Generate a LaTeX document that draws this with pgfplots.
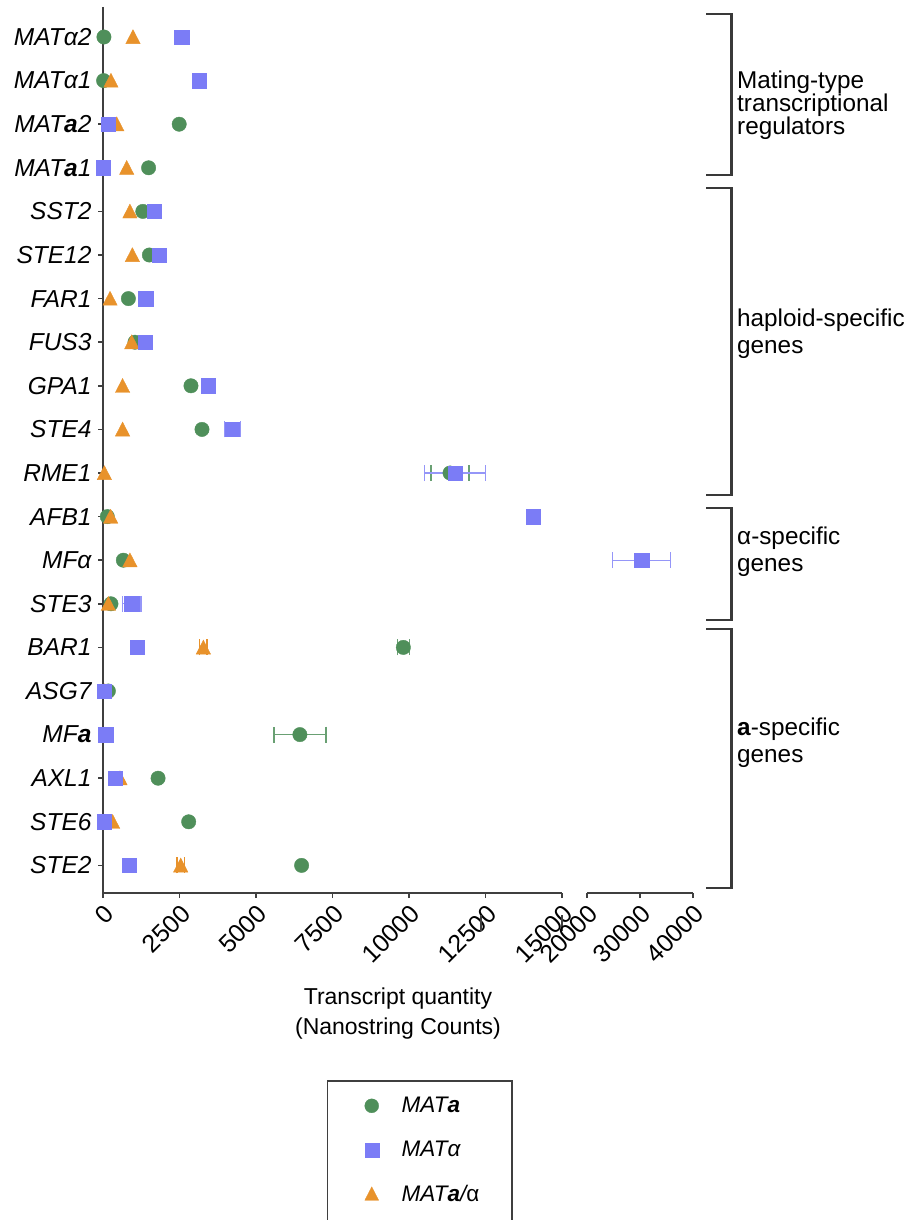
\documentclass[border=0pt]{standalone}
\usepackage{pgfplots}
\pgfplotsset{compat=1.18}
\usepackage{pgfplotstable}
\usepackage{fontspec}
\setmainfont{Liberation Sans}
\definecolor{cA}{HTML}{4F8F5A}
\definecolor{cB}{HTML}{7B7CF6}
\definecolor{cC}{HTML}{E8922B}
\definecolor{axc}{HTML}{3F3F3F}

% row index (0 = top), mean transcript count
\pgfplotstableread{
y x
0 30
1 20
2 2490
3 1490
4 1300
5 1515
6 830
7 1045
8 2875
9 3235
10 11340
11 140
12 665
13 260
14 9815
15 175
16 6435
17 1800
18 2800
19 6490
}\tabA
\pgfplotstableread{
y x
0 2570
1 3150
2 175
3 10
4 1670
5 1840
6 1395
7 1370
8 3440
9 4225
10 11500
11 14065
13 940
14 1120
15 35
16 85
17 390
18 45
19 850
}\tabB
\pgfplotstableread{
y x
12 30300
}\tabBright
\pgfplotstableread{
y x
0 980
1 260
2 450
3 775
4 880
5 960
6 230
7 940
8 640
9 640
10 45
11 250
12 880
13 175
14 3280
15 60
16 80
17 555
18 315
19 2540
}\tabC
% error bars (only where they show): row, mean, error
\pgfplotstableread{
y x e
10 11340 620
14 9815 200
16 6435 850
}\errA
\pgfplotstableread{
y x e
9 4225 260
10 11500 1000
13 940 300
}\errB
\pgfplotstableread{
y x e
12 30300 5500
}\errBright
\pgfplotstableread{
y x e
14 3280 120
19 2540 120
}\errC

\pgfplotsset{
  common/.style={
    scale only axis, height=886pt,
    ymin=-0.688, ymax=19.633, y dir=reverse,
    axis line style={-, line width=2pt, color=axc},
    tick style={line width=1.5pt, color=axc},
    major tick length=5pt, tick align=outside,
    xtick pos=bottom, scaled x ticks=false,
    xticklabel style={font=\fontsize{25}{30}\selectfont, rotate=45, anchor=north east},
    clip=false,
  },
  ebar/.style={only marks, mark=none, forget plot,
    error bars/.cd, x dir=both, x explicit,
    error bar style={line width=1.2pt, color=#1},
    error mark options={rotate=90, line width=1.2pt, mark size=8pt, color=#1}},
}

\begin{document}
\begin{tikzpicture}
\useasboundingbox (0,0) rectangle (910pt,1220pt);

\begin{axis}[common,
  at={(103pt,327pt)}, anchor=south west, width=459pt,
  xmin=0, xmax=15000,
  axis x line*=bottom, axis y line*=left,
  xtick={0,2500,5000,7500,10000,12500,15000},
  xticklabels={0,2500,5000,7500,10000,12500,15000},
  ytick={0,1,...,19},
  yticklabel style={font=\fontsize{24.5}{29}\selectfont\itshape, xshift=-3pt},
  yticklabels={MATα2,MATα1,MAT\textbf{a}2,MAT\textbf{a}1,SST2,STE12,FAR1,FUS3,GPA1,STE4,RME1,AFB1,MFα,STE3,BAR1,ASG7,MF\textbf{a},AXL1,STE6,STE2},
  legend image code/.code={\path[draw=none, fill=none] (-44pt,-22pt) rectangle (30pt,22pt); \draw[#1, line width=0.3pt] plot coordinates {(0pt,0pt)};},
  legend cell align=left,
  legend style={at={(axis description cs:0.488,-0.2111)}, anchor=north west,
    draw=axc, line width=1.5pt, inner xsep=0pt, inner ysep=3pt, row sep=0pt,
    font=\fontsize{22.5}{27}\selectfont, nodes={inner sep=0pt, draw=none}},
]
\addplot[ebar=cA!85!white] table[x=x, y=y, x error=e] {\errA};
\addplot[ebar=cC] table[x=x, y=y, x error=e] {\errC};
\addplot[ebar=cB!80!white] table[x=x, y=y, x error=e] {\errB};

\addplot[only marks, mark=*, mark size=7.2pt, color=cA, forget plot] table[x=x, y=y] {\tabA};
\addplot[only marks, mark=triangle*, mark size=8.3pt, mark options={yshift=-2pt, yscale=1.12}, color=cC, forget plot] table[x=x, y=y] {\tabC};
\addplot[only marks, mark=square*, mark size=7.2pt, color=cB, forget plot] table[x=x, y=y] {\tabB};

\addlegendimage{only marks, mark=*, mark size=7pt, color=cA}
\addlegendentry{\makebox[110pt][l]{\itshape MAT\textbf{a}}}
\addlegendimage{only marks, mark=square*, mark size=7pt, color=cB}
\addlegendentry{\makebox[110pt][l]{\itshape MATα}}
\addlegendimage{only marks, mark=triangle*, mark size=8pt, mark options={yshift=-2pt, yscale=1.12}, color=cC}
\addlegendentry{\makebox[110pt][l]{\itshape MAT\textbf{a}/\upshape α}}
\addlegendimage{empty legend}
\addlegendentry{}

\draw[line width=2pt, color=axc] (axis cs:15000,19.633) +(0,8pt) -- +(0,-8pt);
\end{axis}

\begin{axis}[common,
  at={(587pt,327pt)}, anchor=south west, width=106pt,
  xmin=20000, xmax=40000,
  axis x line*=bottom, axis y line=none,
  xtick={20000,30000,40000},
  xticklabels={20000,30000,40000},
  ytick=\empty,
]
\addplot[ebar=cB!80!white] table[x=x, y=y, x error=e] {\errBright};
\addplot[only marks, mark=square*, mark size=7.2pt, color=cB] table[x=x, y=y] {\tabBright};
\draw[line width=2pt, color=axc] (axis cs:20000,19.633) +(0,8pt) -- +(0,-8pt);
\end{axis}

% group brackets
\begin{scope}[line width=2.7pt, color=axc!90!black, line join=miter]
\draw (706pt,1206pt) -- (731.5pt,1206pt) -- (731.5pt,1045pt) -- (706pt,1045pt);
\draw (706pt,1032pt) -- (731.5pt,1032pt) -- (731.5pt,725pt) -- (706pt,725pt);
\draw (706pt,712pt) -- (731.5pt,712pt) -- (731.5pt,600pt) -- (706pt,600pt);
\draw (706pt,591pt) -- (731.5pt,591pt) -- (731.5pt,332pt) -- (706pt,332pt);
\end{scope}
\begin{scope}[every node/.style={anchor=base west, inner sep=0pt, font=\fontsize{24.3}{29}\selectfont}]
\node at (737pt,1131pt) {Mating-type};
\node at (737pt,1108.5pt) {transcriptional};
\node at (737pt,1085pt) {regulators};
\node at (737pt,893.3pt) {haploid-specific};
\node at (737pt,866.7pt) {genes};
\node at (737pt,675pt) {α-specific};
\node at (737pt,648pt) {genes};
\node at (737pt,484pt) {\textbf{a}-specific};
\node at (737pt,457pt) {genes};
\end{scope}

% axis title
\node[anchor=base, inner sep=0pt, font=\fontsize{23}{28}\selectfont] at (398pt,215pt) {Transcript quantity};
\node[anchor=base, inner sep=0pt, font=\fontsize{23}{28}\selectfont] at (398pt,185pt) {(Nanostring Counts)};
\end{tikzpicture}
\end{document}
